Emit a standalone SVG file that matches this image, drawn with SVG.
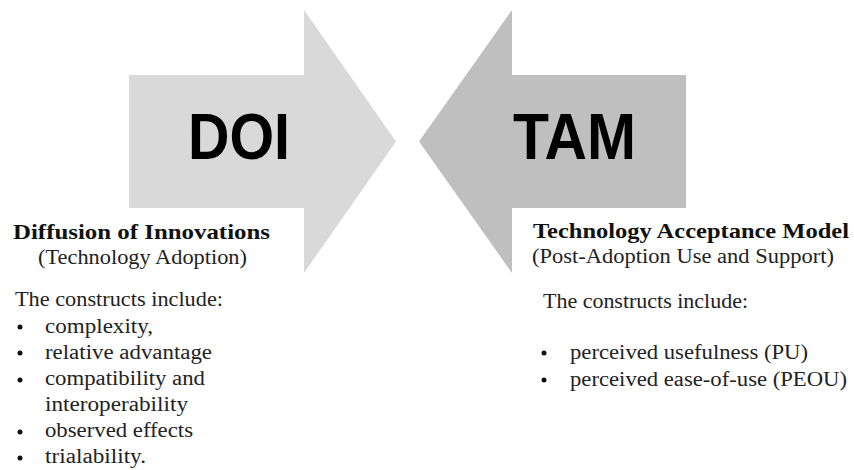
<svg xmlns="http://www.w3.org/2000/svg" width="854" height="470" viewBox="0 0 854 470">
  <style>
    .big { font-family: "Liberation Sans", Arial, sans-serif; font-weight: bold; font-size: 64px; fill: #000; }
    .ttl { font-family: "Liberation Serif", "Times New Roman", serif; font-weight: bold; font-size: 21px; fill: #111; }
    .txt { font-family: "Liberation Serif", "Times New Roman", serif; font-size: 20px; fill: #222; }
    .bul { fill: #111; }
  </style>
  <rect width="854" height="470" fill="#fff"/>
  <g id="doi">
    <polygon points="129,75 304,75 304,10 396,141.5 304,273 304,208 129,208" fill="#D9D9D9"/>
    <text class="big" x="188" y="159" textLength="102" lengthAdjust="spacingAndGlyphs">DOI</text>
  </g>
  <g id="tam">
    <polygon points="686,75 512,75 512,10 419,141.5 512,273 512,208 686,208" fill="#BFBFBF"/>
    <text class="big" x="513" y="159" textLength="123" lengthAdjust="spacingAndGlyphs">TAM</text>
  </g>
  <g id="connectors"/>
  <g id="doi-text">
    <text class="ttl" x="13" y="239" textLength="257" lengthAdjust="spacingAndGlyphs">Diffusion of Innovations</text>
    <text class="txt" x="38" y="264" textLength="209" lengthAdjust="spacingAndGlyphs">(Technology Adoption)</text>
    <text class="txt" x="15" y="306" textLength="208" lengthAdjust="spacingAndGlyphs">The constructs include:</text>
    <circle class="bul" cx="20" cy="327" r="2.5"/>
    <text class="txt" x="45" y="333" textLength="108" lengthAdjust="spacingAndGlyphs">complexity,</text>
    <circle class="bul" cx="20" cy="353" r="2.5"/>
    <text class="txt" x="45" y="359" textLength="167" lengthAdjust="spacingAndGlyphs">relative advantage</text>
    <circle class="bul" cx="20" cy="380" r="2.5"/>
    <text class="txt" x="45" y="385" textLength="160" lengthAdjust="spacingAndGlyphs">compatibility and</text>
    <text class="txt" x="45" y="411" textLength="143" lengthAdjust="spacingAndGlyphs">interoperability</text>
    <circle class="bul" cx="20" cy="432" r="2.5"/>
    <text class="txt" x="45" y="437" textLength="148" lengthAdjust="spacingAndGlyphs">observed effects</text>
    <circle class="bul" cx="20" cy="458" r="2.5"/>
    <text class="txt" x="45" y="463" textLength="101" lengthAdjust="spacingAndGlyphs">trialability.</text>
  </g>
  <g id="tam-text">
    <text class="ttl" x="533" y="238" textLength="316" lengthAdjust="spacingAndGlyphs">Technology Acceptance Model</text>
    <text class="txt" x="532" y="263" textLength="302" lengthAdjust="spacingAndGlyphs">(Post-Adoption Use and Support)</text>
    <text class="txt" x="543" y="308" textLength="205" lengthAdjust="spacingAndGlyphs">The constructs include:</text>
    <circle class="bul" cx="544" cy="353" r="2.5"/>
    <text class="txt" x="570" y="359" textLength="238" lengthAdjust="spacingAndGlyphs">perceived usefulness (PU)</text>
    <circle class="bul" cx="544" cy="380" r="2.5"/>
    <text class="txt" x="570" y="386" textLength="277" lengthAdjust="spacingAndGlyphs">perceived ease-of-use (PEOU)</text>
  </g>
</svg>
